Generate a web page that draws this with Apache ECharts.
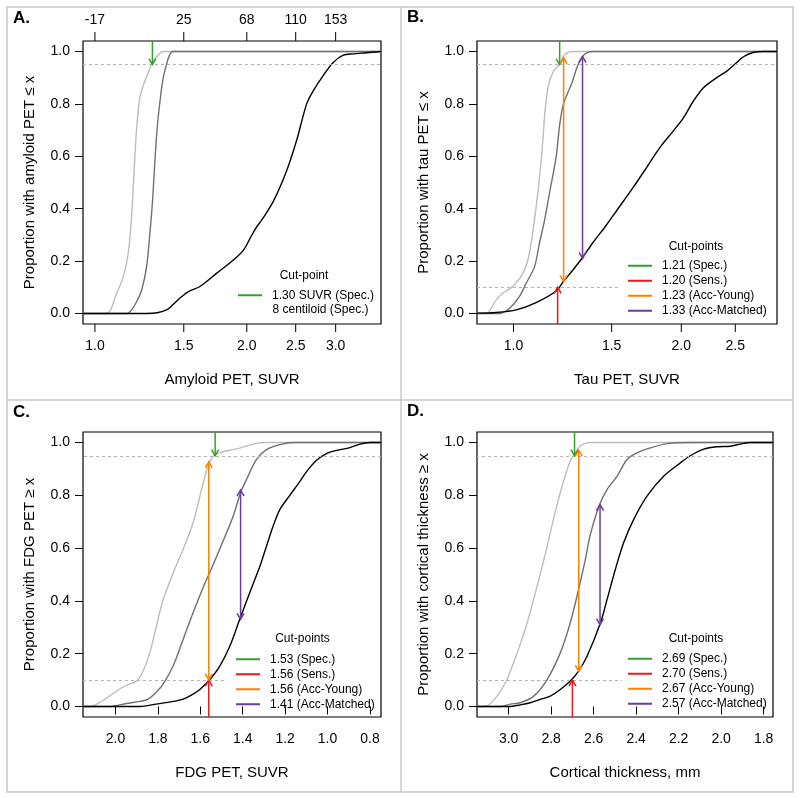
<!DOCTYPE html>
<html><head><meta charset="utf-8">
<script src="https://cdn.jsdelivr.net/npm/echarts@6/dist/echarts.min.js"></script>
<style>html,body{margin:0;padding:0;background:#fff}#c{width:800px;height:798px}</style>
</head><body><div id="c"></div>
<script>
const FONT = "'Liberation Sans', Arial, Helvetica, sans-serif";
const Y_MIN = -0.04, Y_MAX = 1.04;

// ---------- Panel A: amyloid PET (log SUVR axis) ----------
const youngA = [[0.947,0],[1.055,0],[1.104,0.077],[1.138,0.14],[1.164,0.229],[1.182,0.369],[1.195,0.533],[1.21,0.71],[1.228,0.825],[1.251,0.878],[1.276,0.92],[1.295,0.952],[1.326,0.98],[1.366,1.0],[3.69,1.0]];
const matchedA = [[0.947,0],[1.156,0],[1.182,0.014],[1.21,0.046],[1.238,0.09],[1.266,0.179],[1.285,0.305],[1.301,0.432],[1.315,0.584],[1.329,0.711],[1.346,0.812],[1.366,0.901],[1.387,0.952],[1.404,0.984],[1.426,1.0],[3.69,1.0]];
const adA = [[0.947,0],[1.266,0],[1.33,0.003],[1.39,0.015],[1.43,0.035],[1.48,0.062],[1.53,0.083],[1.615,0.103],[1.744,0.154],[1.881,0.204],[1.97,0.242],[2.03,0.287],[2.092,0.331],[2.14,0.356],[2.26,0.43],[2.4,0.546],[2.51,0.66],[2.628,0.80],[2.708,0.85],[2.834,0.908],[2.967,0.958],[3.106,0.986],[3.25,0.991],[3.45,0.995],[3.69,1.0]];
const ticksA = [1.0,1.5,2.0,2.5,3.0];
const tickLabelsA = ['1.0','1.5','2.0','2.5','3.0'];
const centiloidLabelsA = ['-17','25','68','110','153'];
const cutLabelsA = ['1.30 SUVR (Spec.)'];
const cutXA = [1.30];
const arrowFromA = ['top'];
const arrowToA = [0.95];

// ---------- Panel B: tau PET (log SUVR axis) ----------
const youngB = [[0.86,0],[0.893,0],[0.931,0.052],[0.957,0.078],[0.997,0.103],[1.04,0.154],[1.068,0.23],[1.1,0.42],[1.125,0.62],[1.14,0.78],[1.155,0.87],[1.18,0.925],[1.21,0.952],[1.238,0.99],[1.28,1.0],[2.97,1.0]];
const matchedB = [[0.86,0],[0.944,0],[0.984,0.02],[1.025,0.065],[1.054,0.116],[1.091,0.179],[1.113,0.268],[1.137,0.356],[1.16,0.458],[1.193,0.6],[1.21,0.72],[1.229,0.80],[1.25,0.84],[1.273,0.88],[1.3,0.94],[1.326,0.977],[1.354,0.996],[1.392,1.0],[2.97,1.0]];
const adB = [[0.86,0.0015],[0.931,0.004],[1.011,0.014],[1.098,0.042],[1.193,0.086],[1.229,0.122],[1.278,0.166],[1.328,0.212],[1.388,0.27],[1.467,0.337],[1.533,0.394],[1.642,0.483],[1.735,0.559],[1.833,0.635],[1.937,0.698],[2.019,0.748],[2.104,0.812],[2.192,0.862],[2.315,0.90],[2.414,0.925],[2.498,0.952],[2.586,0.98],[2.69,0.996],[2.807,1.0],[2.97,1.0]];
const ticksB = [1.0,1.5,2.0,2.5];
const tickLabelsB = ['1.0','1.5','2.0','2.5'];
const cutLabelsB = ['1.21 (Spec.)','1.20 (Sens.)','1.23 (Acc-Young)','1.33 (Acc-Matched)'];
const cutXB = [1.21,1.20,1.23,1.33];
const arrowFromB = ['top','bottom',0.977,0.981];
const arrowToB = [0.95,0.10,0.122,0.21];

// ---------- Panel C: FDG PET (reversed linear axis) ----------
const youngC = [[2.153,0],[2.121,0],[2.074,0.015],[2.027,0.04],[1.98,0.066],[1.948,0.08],[1.90,0.097],[1.869,0.135],[1.838,0.203],[1.807,0.304],[1.775,0.405],[1.728,0.506],[1.681,0.595],[1.634,0.696],[1.594,0.822],[1.563,0.913],[1.54,0.948],[1.508,0.962],[1.461,0.971],[1.414,0.979],[1.382,0.987],[1.335,0.997],[1.288,1.0],[0.748,1.0]];
const matchedC = [[2.153,0],[2.027,0],[1.948,0.011],[1.885,0.019],[1.846,0.028],[1.807,0.055],[1.775,0.085],[1.728,0.153],[1.681,0.254],[1.634,0.355],[1.587,0.45],[1.54,0.536],[1.492,0.628],[1.445,0.721],[1.41,0.81],[1.382,0.86],[1.335,0.936],[1.288,0.973],[1.225,0.992],[1.162,1.0],[0.748,1.0]];
const adC = [[2.153,0],[1.885,0],[1.807,0.009],[1.728,0.019],[1.681,0.028],[1.634,0.047],[1.602,0.064],[1.555,0.102],[1.508,0.153],[1.461,0.228],[1.414,0.33],[1.367,0.431],[1.319,0.531],[1.288,0.607],[1.257,0.683],[1.225,0.746],[1.178,0.8],[1.131,0.852],[1.099,0.89],[1.052,0.933],[1.005,0.958],[0.958,0.97],[0.895,0.981],[0.847,0.994],[0.80,1.0],[0.748,1.0]];
const ticksC = [2.0,1.8,1.6,1.4,1.2,1.0,0.8];
const cutLabelsC = ['1.53 (Spec.)','1.56 (Sens.)','1.56 (Acc-Young)','1.41 (Acc-Matched)'];
const cutXC = [1.53,1.56,1.56,1.41];
const arrowFromC = ['top','bottom',0.927,0.82];
const arrowToC = [0.95,0.10,0.10,0.33];

// ---------- Panel D: cortical thickness (reversed linear axis) ----------
const youngD = [[3.149,0],[3.133,0],[3.102,0.002],[3.055,0.039],[3.008,0.102],[2.96,0.203],[2.913,0.317],[2.866,0.456],[2.819,0.607],[2.78,0.74],[2.741,0.855],[2.71,0.93],[2.686,0.962],[2.663,0.987],[2.639,0.997],[2.616,1.0],[1.756,1.0]];
const matchedD = [[3.149,0],[3.039,0],[2.992,0.009],[2.945,0.014],[2.882,0.039],[2.819,0.102],[2.757,0.203],[2.71,0.317],[2.671,0.443],[2.639,0.557],[2.616,0.65],[2.572,0.765],[2.537,0.822],[2.49,0.872],[2.443,0.936],[2.396,0.961],[2.333,0.98],[2.255,0.996],[2.145,1.0],[1.756,1.0]];
const adD = [[3.149,0],[3.0,0],[2.945,0.006],[2.898,0.014],[2.851,0.027],[2.804,0.039],[2.757,0.064],[2.71,0.096],[2.671,0.134],[2.631,0.19],[2.568,0.317],[2.537,0.405],[2.498,0.519],[2.459,0.62],[2.412,0.708],[2.349,0.797],[2.271,0.872],[2.192,0.923],[2.145,0.95],[2.082,0.975],[2.02,0.984],[1.957,0.986],[1.91,0.994],[1.863,1.0],[1.756,1.0]];
const ticksD = [3.0,2.8,2.6,2.4,2.2,2.0,1.8];
const cutLabelsD = ['2.69 (Spec.)','2.70 (Sens.)','2.67 (Acc-Young)','2.57 (Acc-Matched)'];
const cutXD = [2.69,2.70,2.67,2.57];
const arrowFromD = ['top','bottom',0.971,0.765];
const arrowToD = [0.95,0.10,0.133,0.31];

// shared
const yTicks = [0,0.2,0.4,0.6,0.8,1.0];
const specLevel = 0.95, sensLevel = 0.10;
const sensLineEnd = [null, 1.55, 1.476, 2.466];
const xMin = [0.947, 0.86, 0.748, 1.756];
const xMax = [3.69, 2.97, 2.153, 3.149];
const xInverse = [false, false, true, true];
const cutColors = ['#33a02c','#e31a1c','#ff7f00','#6a3d9a'];
const curveColors = ['#bdbdbd','#707070','#000000'];
const yNames = ['Proportion with amyloid PET \u2264 x','Proportion with tau PET \u2264 x','Proportion with FDG PET \u2265 x','Proportion with cortical thickness \u2265 x'];
const xNames = ['Amyloid PET, SUVR','Tau PET, SUVR','FDG PET, SUVR','Cortical thickness, mm'];

const grids = [
  {left:83, top:41, width:298, height:283},
  {left:477, top:41, width:300, height:283},
  {left:83, top:432, width:298, height:285},
  {left:477, top:432, width:296, height:285}
].map(g => Object.assign(g, {show:true, borderColor:'#000', borderWidth:1.2, backgroundColor:'transparent'}));

const xAxes = [0,1,2,3].map(i => {
  const base = {
    gridIndex:i, min:xMin[i], max:xMax[i],
    name:xNames[i], nameLocation:'middle', nameGap:48,
    nameTextStyle:{fontFamily:FONT, fontSize:15, color:'#000'},
    axisLine:{show:false}, splitLine:{show:false}
  };
  if (i < 2) {
    return Object.assign(base, {type:'log', axisTick:{show:false}, axisLabel:{show:false}});
  }
  const tv = i === 2 ? ticksC : ticksD;
  return Object.assign(base, {
    type:'value', inverse:true,
    axisTick:{show:true, length:8, lineStyle:{color:'#000', width:1}, customValues:tv},
    axisLabel:{show:true, margin:15, customValues:tv, formatter:v=>v.toFixed(1), fontFamily:FONT, fontSize:14, color:'#000'}
  });
});

const yAxes = [0,1,2,3].map(i => ({
  type:'value', gridIndex:i, min:Y_MIN, max:Y_MAX,
  name:yNames[i], nameLocation:'middle', nameGap:46, nameRotate:90,
  nameTextStyle:{fontFamily:FONT, fontSize:15, color:'#000'},
  axisLine:{show:false}, splitLine:{show:false},
  axisTick:{show:true, length:8, lineStyle:{color:'#000', width:1}, customValues:yTicks},
  axisLabel:{show:true, margin:13, customValues:yTicks, formatter:v=>v.toFixed(1), fontFamily:FONT, fontSize:14, color:'#000'}
}));

const series = [];
const curveSets = [[youngA,matchedA,adA],[youngB,matchedB,adB],[youngC,matchedC,adC],[youngD,matchedD,adD]];
curveSets.forEach((set, i) => {
  set.forEach((d, k) => {
    const s = {
      type:'line', xAxisIndex:i, yAxisIndex:i, data:d, showSymbol:false, silent:true,
      smooth:0.3, lineStyle:{color:curveColors[k], width:1.4}, z:3
    };
    if (k === 2) {
      const ml = [{yAxis:specLevel}];
      const startX = xInverse[i] ? xMax[i] : xMin[i];
      if (sensLineEnd[i] !== null) ml.push([{coord:[startX, sensLevel]},{coord:[sensLineEnd[i], sensLevel]}]);
      s.markLine = {silent:true, symbol:'none', label:{show:false}, animation:false,
        lineStyle:{color:'#b4b4b4', type:[3,3], width:1}, data:ml};
    }
    series.push(s);
  });
});

// ticks for log axes (A, B)
function logTickSeries(i, ticks, labels, topLabels) {
  return {
    type:'custom', xAxisIndex:i, yAxisIndex:i, silent:true, clip:false, z:6,
    data: ticks.map(v => [v, 0]),
    renderItem(params, api) {
      const v = api.value(0), j = params.dataIndex;
      const b = api.coord([v, Y_MIN]);
      const ch = [
        {type:'line', shape:{x1:b[0], y1:b[1], x2:b[0], y2:b[1]+8}, style:{stroke:'#000', lineWidth:1}},
        {type:'text', style:{text:labels[j], x:b[0], y:b[1]+15, align:'center', verticalAlign:'top', font:'14px ' + FONT, fill:'#000'}}
      ];
      if (topLabels) {
        const t = api.coord([v, Y_MAX]);
        ch.push({type:'line', shape:{x1:t[0], y1:t[1], x2:t[0], y2:t[1]-9}, style:{stroke:'#000', lineWidth:1}});
        ch.push({type:'text', style:{text:topLabels[j], x:t[0], y:t[1]-14, align:'center', verticalAlign:'bottom', font:'14px ' + FONT, fill:'#000'}});
      }
      return {type:'group', children:ch};
    }
  };
}
series.push(logTickSeries(0, ticksA, tickLabelsA, centiloidLabelsA));
series.push(logTickSeries(1, ticksB, tickLabelsB, null));

// arrows
function headPts(tip, other) {
  const dx = tip[0]-other[0], dy = tip[1]-other[1];
  const len = Math.hypot(dx, dy) || 1;
  const ux = dx/len, uy = dy/len, L = 7, a = Math.PI/6;
  const r = (s) => [tip[0] - L*(ux*Math.cos(s*a) - uy*Math.sin(s*a)), tip[1] - L*(ux*Math.sin(s*a) + uy*Math.cos(s*a))];
  return [r(1), tip, r(-1)];
}
function arrowSeries(i, name, color, x, from, to) {
  const fromVal = from === 'top' ? Y_MAX : (from === 'bottom' ? Y_MIN : from);
  const dbl = typeof from === 'number';
  return {
    type:'custom', name:name, xAxisIndex:i, yAxisIndex:i, clip:false, z:8, silent:true,
    itemStyle:{color:color},
    data:[[x, fromVal, to]],
    renderItem(params, api) {
      const p1 = api.coord([api.value(0), api.value(1)]);
      const p2 = api.coord([api.value(0), api.value(2)]);
      const st = {stroke:color, lineWidth:1.5, fill:null};
      const ch = [
        {type:'line', shape:{x1:p1[0], y1:p1[1], x2:p2[0], y2:p2[1]}, style:st},
        {type:'polyline', shape:{points:headPts(p2, p1)}, style:st}
      ];
      if (dbl) ch.push({type:'polyline', shape:{points:headPts(p1, p2)}, style:st});
      return {type:'group', children:ch};
    }
  };
}
const cutSets = [
  [cutLabelsA, cutXA, arrowFromA, arrowToA],
  [cutLabelsB, cutXB, arrowFromB, arrowToB],
  [cutLabelsC, cutXC, arrowFromC, arrowToC],
  [cutLabelsD, cutXD, arrowFromD, arrowToD]
];
cutSets.forEach((cs, i) => {
  cs[0].forEach((nm, k) => series.push(arrowSeries(i, nm, cutColors[k], cs[1][k], cs[2][k], cs[3][k])));
});

const legendPos = [[238, 288], [628, 258.5], [236, 652], [628, 651.5]];
const legends = cutSets.map((cs, i) => ({
  data: cs[0], orient:'vertical', left:legendPos[i][0], top:legendPos[i][1],
  icon:'rect', itemWidth:24, itemHeight:2, itemGap:0.5, padding:0, selectedMode:false,
  textStyle:{fontFamily:FONT, fontSize:12, color:'#000', lineHeight:14.5, padding:[0,0,0,5]}
}));

const txt = (t, x, y, opt) => Object.assign({type:'text', x:x, y:y, silent:true,
  style:Object.assign({text:t, fill:'#000', font:'12px ' + FONT, align:'center', verticalAlign:'middle'}, opt||{})});
const graphics = [
  {type:'rect', shape:{x:7, y:7, width:786, height:785}, style:{stroke:'#c8c8c8', fill:null, lineWidth:1.5}, silent:true},
  {type:'line', shape:{x1:401, y1:7, x2:401, y2:792}, style:{stroke:'#c8c8c8', lineWidth:1.5}, silent:true},
  {type:'line', shape:{x1:7, y1:400, x2:793, y2:400}, style:{stroke:'#c8c8c8', lineWidth:1.5}, silent:true},
  txt('A.', 13, 18, {align:'left', font:'bold 17px ' + FONT}),
  txt('B.', 407, 17, {align:'left', font:'bold 17px ' + FONT}),
  txt('C.', 13, 412, {align:'left', font:'bold 17px ' + FONT}),
  txt('D.', 407, 411.5, {align:'left', font:'bold 17px ' + FONT}),
  txt('Cut-point', 304, 276),
  txt('8 centiloid (Spec.)', 272.5, 310, {align:'left'}),
  txt('Cut-points', 696, 247),
  txt('Cut-points', 302.5, 639),
  txt('Cut-points', 696, 639)
];

const chart = echarts.init(document.getElementById('c'), null, {renderer:'canvas'});
chart.setOption({
  animation:false, backgroundColor:'#fff',
  grid:grids, xAxis:xAxes, yAxis:yAxes, series:series, legend:legends, graphic:graphics
});
</script></body></html>
